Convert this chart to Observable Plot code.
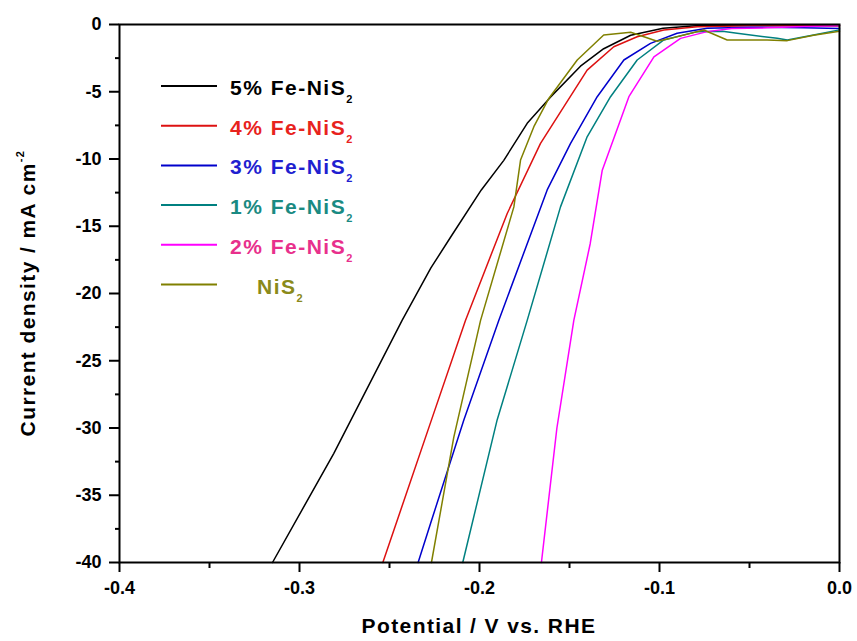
<!DOCTYPE html>
<html>
<head>
<meta charset="utf-8">
<script src="https://cdn.jsdelivr.net/npm/d3@7"></script>
<script src="https://cdn.jsdelivr.net/npm/@observablehq/plot@0.6"></script>
<style>
  html, body { margin: 0; padding: 0; background: #fff; }
  #chart { width: 857px; height: 641px; }
</style>
</head>
<body>
<div id="chart"></div>
<script>
// ---- data (potential V vs RHE, current density mA cm^-2) ----
const fe5 = [[-0.315,-40],[-0.281,-31.9],[-0.243,-22.0],[-0.227,-18.1],[-0.216,-15.8],[-0.199,-12.3],[-0.1865,-10.1],[-0.1735,-7.35],[-0.1606,-5.4],[-0.1439,-3.1],[-0.131,-1.8],[-0.116,-0.8],[-0.098,-0.28],[-0.08,-0.1],[-0.05,-0.05],[0.0,-0.1]];
const fe4 = [[-0.2537,-40],[-0.2272,-29.6],[-0.2078,-22.0],[-0.1846,-14.05],[-0.1661,-8.84],[-0.1532,-6.12],[-0.1402,-3.39],[-0.1254,-1.65],[-0.1124,-0.91],[-0.0976,-0.41],[-0.079,-0.16],[-0.05,-0.1],[0.0,-0.1]];
const fe3 = [[-0.2341,-40],[-0.2272,-37.1],[-0.2087,-29.4],[-0.1893,-22.0],[-0.1624,-12.3],[-0.1494,-8.84],[-0.1346,-5.37],[-0.1198,-2.64],[-0.105,-1.4],[-0.0902,-0.65],[-0.0735,-0.28],[-0.05,-0.2],[-0.02,-0.25],[0.0,-0.3]];
const fe1 = [[-0.2093,-40],[-0.1902,-29.4],[-0.1735,-22.0],[-0.155,-13.56],[-0.1402,-8.35],[-0.1272,-5.37],[-0.1124,-2.64],[-0.0976,-1.15],[-0.079,-0.53],[-0.065,-0.5],[-0.0569,-0.65],[-0.0346,-1.03],[-0.029,-1.15],[-0.0144,-0.78],[0.0,-0.4]];
const fe2 = [[-0.1656,-40],[-0.157,-30.0],[-0.1476,-22.0],[-0.1385,-16.3],[-0.1318,-10.83],[-0.117,-5.37],[-0.1031,-2.4],[-0.0883,-1.03],[-0.0735,-0.53],[-0.06,-0.3],[-0.04,-0.25],[-0.02,-0.15],[0.0,-0.1]];
const nis2 = [[-0.2267,-40],[-0.2143,-30.7],[-0.1994,-22.0],[-0.1809,-13.56],[-0.1772,-10.08],[-0.1698,-7.6],[-0.1615,-5.5],[-0.1457,-2.64],[-0.131,-0.78],[-0.116,-0.58],[-0.1013,-1.25],[-0.0939,-1.03],[-0.0754,-0.41],[-0.0624,-1.15],[-0.0402,-1.15],[-0.029,-1.2],[-0.0144,-0.8],[0.0,-0.5]];

const seriesData = [fe5, fe4, fe3, fe1, fe2, nis2];
const seriesNames = ["5% Fe-NiS", "4% Fe-NiS", "3% Fe-NiS", "1% Fe-NiS", "2% Fe-NiS", "NiS"];
const seriesSub = ["2", "2", "2", "2", "2", "2"];
const lineColors = ["#000000", "#dd1111", "#0000cc", "#008080", "#ff00ff", "#808000"];
const textColors = ["#000000", "#e8231d", "#1f1fd0", "#1a8a82", "#e8308c", "#8a8a1a"];

const xMajor = [-0.4, -0.3, -0.2, -0.1, 0.0];
const xMinor = [-0.35, -0.25, -0.15, -0.05];
const yMajor = [0, -5, -10, -15, -20, -25, -30, -35, -40];
const yMinor = [-2.5, -7.5, -12.5, -17.5, -22.5, -27.5, -32.5, -37.5];

const xTitle = "Potential / V vs. RHE";
const yTitle = "Current density / mA cm";
const yTitleSup = "-2";

// ---- chart ----
const fontFam = "'Liberation Sans', Arial, sans-serif";

const lineMarks = seriesData.map((arr, i) =>
  Plot.line(arr, {x: d => d[0], y: d => d[1], stroke: lineColors[i], strokeWidth: 1.5, curve: "linear"})
);

const svg = Plot.plot({
  width: 857,
  height: 641,
  marginLeft: 119,
  marginRight: 18,
  marginTop: 24,
  marginBottom: 79,
  style: {fontFamily: fontFam, fontWeight: "bold", fontSize: "18px", color: "#000", background: "#fff"},
  x: {domain: [-0.4, 0.0]},
  y: {domain: [-40, 0]},
  marks: [
    ...lineMarks,
    Plot.axisX({ticks: xMajor, tickSize: 10, tickPadding: 9, strokeWidth: 2, tickFormat: d => d.toFixed(1), label: null, fontSize: 18}),
    Plot.axisX({ticks: xMinor, tickSize: 6, strokeWidth: 2, tickFormat: () => "", label: null}),
    Plot.axisY({ticks: yMajor, tickSize: 10, tickPadding: 8, strokeWidth: 2, tickFormat: d => String(d), label: null, fontSize: 18}),
    Plot.axisY({ticks: yMinor, tickSize: 4, strokeWidth: 2, tickFormat: () => "", label: null}),
    Plot.frame({stroke: "#000", strokeWidth: 2})
  ]
});

const root = d3.select(svg);

// axis titles
root.append("text")
  .attr("x", 479).attr("y", 633)
  .attr("text-anchor", "middle")
  .style("font-family", fontFam).style("font-weight", "bold")
  .style("font-size", "21px").style("letter-spacing", "1.4px")
  .attr("fill", "#000")
  .text(xTitle);

const yt = root.append("text")
  .attr("transform", "translate(35,293) rotate(-90)")
  .attr("text-anchor", "middle")
  .style("font-family", fontFam).style("font-weight", "bold")
  .style("font-size", "21px").style("letter-spacing", "1.4px")
  .attr("fill", "#000");
yt.append("tspan").text(yTitle);
yt.append("tspan").attr("dy", -11).style("font-size", "11px").text(yTitleSup);

// legend (inside the plot, top-left)
const lg = root.append("g").attr("text-anchor", "start");
seriesNames.forEach((name, i) => {
  const cy = 86 + i * 39.7;
  lg.append("line")
    .attr("x1", 161).attr("x2", 217).attr("y1", cy).attr("y2", cy)
    .attr("stroke", lineColors[i]).attr("stroke-width", 2);
  const t = lg.append("text")
    .attr("x", i === 5 ? 257 : 230).attr("y", cy + 9)
    .attr("text-anchor", "start")
    .style("font-family", fontFam).style("font-weight", "bold")
    .style("font-size", "21px").style("letter-spacing", "1.5px")
    .attr("fill", textColors[i]);
  t.append("tspan").text(name);
  t.append("tspan").attr("dy", 8).style("font-size", "11px").text(seriesSub[i]);
});

document.getElementById("chart").appendChild(svg);
</script>
</body>
</html>
